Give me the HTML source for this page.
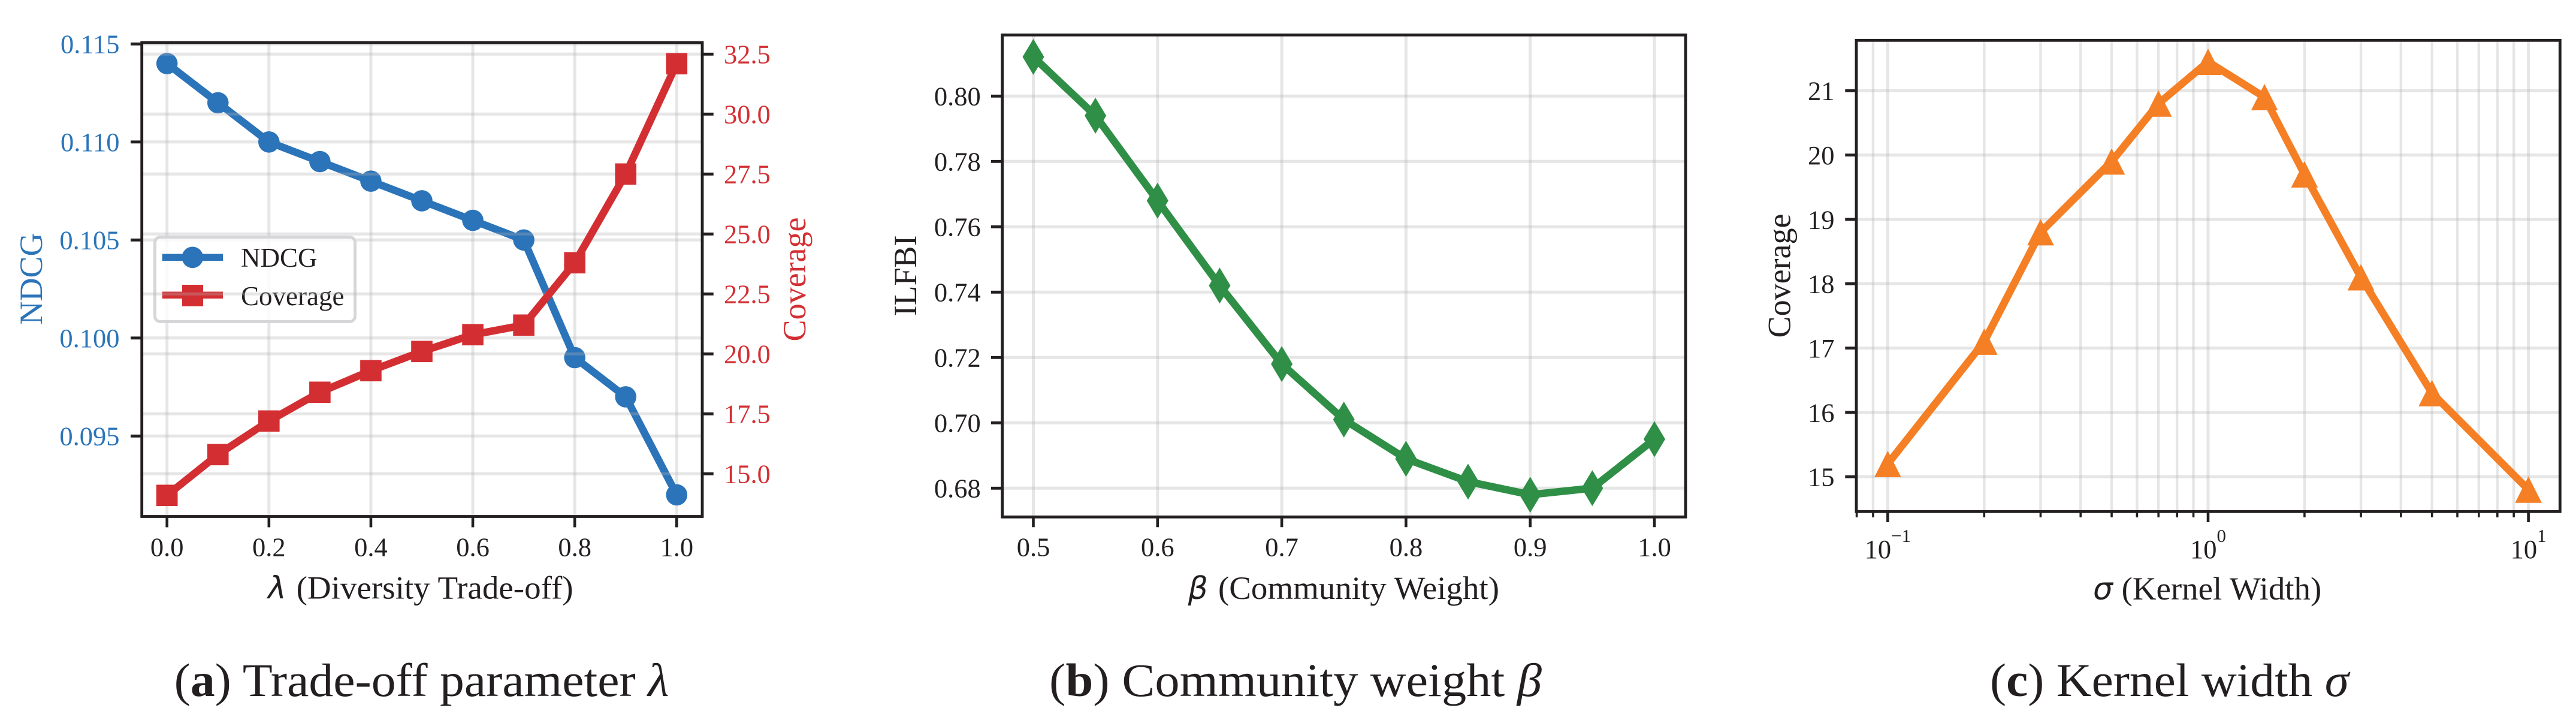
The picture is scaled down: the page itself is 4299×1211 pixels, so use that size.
<!DOCTYPE html>
<html lang="en">
<head>
<meta charset="utf-8">
<title>Parameter sensitivity charts</title>
<style>
html,body{margin:0;padding:0;background:#fff;}
body{width:4299px;height:1211px;overflow:hidden;}
svg{display:block;}
text{font-family:"Liberation Serif",serif;fill:#231f20;}
.math{font-family:"DejaVu Sans",sans-serif;font-style:italic;}
.greek{font-family:"Liberation Serif",serif;font-style:italic;}
</style>
</head>
<body>
<svg id="figure" xmlns="http://www.w3.org/2000/svg" width="4299" height="1211" viewBox="0 0 4299 1211">
  <rect x="0" y="0" width="4299" height="1211" fill="#ffffff"/>

  <g id="panel-a">
    <g id="a-grid"></g>
    <g id="a-ndcg"></g>
    <g id="a-legend">
      <rect x="258.5" y="395.5" width="334" height="141" rx="9" ry="9" fill="#ffffff" fill-opacity="0.8" stroke="#d6d6d8" stroke-width="5"/>
      <g>
        <line x1="270.7" x2="372" y1="429.3" y2="429.3" stroke="#2b74b9" stroke-width="11.5"/>
        <circle cx="321.3" cy="429.3" r="17.8" fill="#2b74b9"/>
        <text x="402" y="445" font-size="45">NDCG</text>
      </g>
      <g>
        <line x1="270.7" x2="372" y1="492.3" y2="492.3" stroke="#d32f33" stroke-width="11.5"/>
        <rect x="304" y="475" width="35" height="36" fill="#d32f33"/>
        <text x="402" y="509" font-size="45">Coverage</text>
      </g>
    </g>
    <g id="a-grid2"></g>
    <g id="a-coverage"></g>
    <rect x="236.7" y="71" width="935.3" height="790.5" fill="none" stroke="#231f20" stroke-width="4.8"/>
    <g id="a-axes"></g>
    <text transform="translate(70 465) rotate(-90)" text-anchor="middle" font-size="54" style="fill:#2b74b9">NDCG</text>
    <text transform="translate(1344 466) rotate(-90)" text-anchor="middle" font-size="54" style="fill:#d32f33">Coverage</text>
    <text x="447" y="998.5" font-size="52" class="math">λ</text>
    <text x="494.6" y="998.5" font-size="54.4" textLength="462" lengthAdjust="spacingAndGlyphs">(Diversity Trade-off)</text>
    <text x="290.6" y="1161" font-size="78" textLength="826" lengthAdjust="spacingAndGlyphs">(<tspan font-weight="bold">a</tspan>) Trade-off parameter <tspan class="greek">λ</tspan></text>
  </g>

  <g id="panel-b">
    <g id="b-grid"></g>
    <g id="b-series"></g>
    <rect x="1672.7" y="58.3" width="1140.3" height="804" fill="none" stroke="#231f20" stroke-width="4.8"/>
    <g id="b-axes"></g>
    <text transform="translate(1529 460) rotate(-90)" text-anchor="middle" font-size="54">ILFBI</text>
    <text x="1982.6" y="999" font-size="52" class="math">β</text>
    <text x="2033" y="999" font-size="54.4" textLength="469" lengthAdjust="spacingAndGlyphs">(Community Weight)</text>
    <text x="1751" y="1161" font-size="78" textLength="822" lengthAdjust="spacingAndGlyphs">(<tspan font-weight="bold">b</tspan>) Community weight <tspan class="greek">β</tspan></text>
  </g>

  <g id="panel-c">
    <g id="c-grid"></g>
    <g id="c-series"></g>
    <rect x="3098" y="67.3" width="1174.3" height="786" fill="none" stroke="#231f20" stroke-width="4.8"/>
    <g id="c-axes"></g>
    <text transform="translate(2987.5 460) rotate(-90)" text-anchor="middle" font-size="54">Coverage</text>
    <text x="3493" y="1000" font-size="52" class="math">σ</text>
    <text x="3540.6" y="1000" font-size="54.4" textLength="333.7" lengthAdjust="spacingAndGlyphs">(Kernel Width)</text>
    <text x="3321" y="1161" font-size="78" textLength="599" lengthAdjust="spacingAndGlyphs">(<tspan font-weight="bold">c</tspan>) Kernel width <tspan class="greek">σ</tspan></text>
  </g>
</svg>

<script>
// ---- Panel A data ----
const lambdaValues = [0.0, 0.1, 0.2, 0.3, 0.4, 0.5, 0.6, 0.7, 0.8, 0.9, 1.0];
const ndcgValues = [0.114, 0.112, 0.110, 0.109, 0.108, 0.107, 0.106, 0.105, 0.099, 0.097, 0.092];
const coverageValues = [14.1, 15.8, 17.2, 18.4, 19.3, 20.1, 20.8, 21.2, 23.8, 27.5, 32.1];
const lambdaTicks = [0.0, 0.2, 0.4, 0.6, 0.8, 1.0];
const lambdaTickLabels = ['0.0', '0.2', '0.4', '0.6', '0.8', '1.0'];
const ndcgTicks = [0.095, 0.100, 0.105, 0.110, 0.115];
const ndcgTickLabels = ['0.095', '0.100', '0.105', '0.110', '0.115'];
const coverageTicks = [15, 17.5, 20, 22.5, 25, 27.5, 30, 32.5];
const coverageTickLabels = ['15.0', '17.5', '20.0', '22.5', '25.0', '27.5', '30.0', '32.5'];

// ---- Panel B data ----
const betaValues = [0.5, 0.55, 0.6, 0.65, 0.7, 0.75, 0.8, 0.85, 0.9, 0.95, 1.0];
const ilfbiValues = [0.812, 0.794, 0.768, 0.742, 0.718, 0.701, 0.689, 0.682, 0.678, 0.680, 0.695];
const betaTicks = [0.5, 0.6, 0.7, 0.8, 0.9, 1.0];
const betaTickLabels = ['0.5', '0.6', '0.7', '0.8', '0.9', '1.0'];
const ilfbiTicks = [0.68, 0.70, 0.72, 0.74, 0.76, 0.78, 0.80];
const ilfbiTickLabels = ['0.68', '0.70', '0.72', '0.74', '0.76', '0.78', '0.80'];

// ---- Panel C data ----
const sigmaValues = [0.1, 0.2, 0.3, 0.5, 0.7, 1, 1.5, 2, 3, 5, 10];
const kernelCoverageValues = [15.2, 17.1, 18.8, 19.9, 20.8, 21.45, 20.9, 19.7, 18.1, 16.3, 14.8];
const sigmaMajorTicks = [0.1, 1, 10];
const sigmaTickBases = ['10', '10', '10'];
const sigmaTickExponents = ['\u22121', '0', '1'];
const sigmaMinorTicks = [0.08, 0.09, 0.2, 0.3, 0.4, 0.5, 0.6, 0.7, 0.8, 0.9, 2, 3, 4, 5, 6, 7, 8, 9];
const kernelCoverageTicks = [15, 16, 17, 18, 19, 20, 21];
const kernelCoverageTickLabels = ['15', '16', '17', '18', '19', '20', '21'];

// ---- Axis functions ----
const xLambda = v => 278.7 + v * 850.6;
const yNdcg = v => 73.3 + (0.115 - v) * 32700;
const yCoverage = v => 90.3 + (32.5 - v) * 40;
const xBeta = v => 1724.5 + (v - 0.5) * 2073;
const yIlfbi = v => 160.3 + (0.80 - v) * 5450;
const xSigma = v => 3685 + Math.log10(v) * 534.6;
const yKernel = v => 151.3 + (21 - v) * 107.33;

// ---- Styling constants ----
const GRID = 'rgba(176,176,180,0.32)';
const INK = '#231f20';
const BLUE = '#2b74b9';
const RED = '#d32f33';
const GREEN = '#2f8f46';
const ORANGE = '#f57f25';
const NS = 'http://www.w3.org/2000/svg';
const TICK_SIZE = 44.5;

function make(tag, parent, attrs) {
  const node = document.createElementNS(NS, tag);
  for (const k in attrs) node.setAttribute(k, attrs[k]);
  parent.appendChild(node);
  return node;
}
const $ = id => document.getElementById(id);

function polyPoints(xs, ys, fx, fy) {
  return xs.map((x, i) => fx(x).toFixed(2) + ',' + fy(ys[i]).toFixed(2)).join(' ');
}

// ---- Grid helpers ----
function vGrid(parent, ticks, fx, top, bottom, width) {
  ticks.forEach(t => {
    const g = make('line', parent, {x1: fx(t), x2: fx(t), y1: top, y2: bottom, stroke: GRID, 'stroke-width': width});
    
    
  });
}
function hGrid(parent, ticks, fy, left, right) {
  ticks.forEach(t => {
    const g = make('line', parent, {x1: left, x2: right, y1: fy(t), y2: fy(t), stroke: GRID, 'stroke-width': 5});
    
    
  });
}

// ---- Tick helpers ----
function xTicks(parent, ticks, labels, fx, bottom, len, baseline) {
  ticks.forEach((t, i) => {
    const m = make('line', parent, {x1: fx(t), x2: fx(t), y1: bottom, y2: bottom + len, stroke: INK, 'stroke-width': 4.6});
    
    
    const l = make('text', parent, {x: fx(t), y: baseline, 'text-anchor': 'middle', 'font-size': TICK_SIZE});
    l.textContent = labels[i];
    
    
  });
}
function yTicksLeft(parent, ticks, labels, fy, spine, labelEnd, color) {
  ticks.forEach((t, i) => {
    const m = make('line', parent, {x1: spine - 18.7, x2: spine, y1: fy(t), y2: fy(t), stroke: INK, 'stroke-width': 4.8});
    
    
    const l = make('text', parent, {x: labelEnd, y: fy(t) + 15.3, 'text-anchor': 'end', 'font-size': TICK_SIZE, style: 'fill:' + color});
    l.textContent = labels[i];
    
    
  });
}
function yTicksRight(parent, ticks, labels, fy, spine, labelStart, color) {
  ticks.forEach((t, i) => {
    const m = make('line', parent, {x1: spine, x2: spine + 18.7, y1: fy(t), y2: fy(t), stroke: INK, 'stroke-width': 4.8});
    
    
    const l = make('text', parent, {x: labelStart, y: fy(t) + 15.3, 'font-size': TICK_SIZE, style: 'fill:' + color});
    l.textContent = labels[i];
    
    
  });
}

// ---- Panel A ----
vGrid($('a-grid'), lambdaTicks, xLambda, 71, 861.5, 5);
hGrid($('a-grid'), ndcgTicks, yNdcg, 236.7, 1172);

const ndcgLine = make('polyline', $('a-ndcg'), {points: polyPoints(lambdaValues, ndcgValues, xLambda, yNdcg), fill: 'none', stroke: BLUE, 'stroke-width': 12.5, 'stroke-linejoin': 'round'});


lambdaValues.forEach((x, i) => {
  const pt = make('circle', $('a-ndcg'), {cx: xLambda(x), cy: yNdcg(ndcgValues[i]), r: 17.8, fill: BLUE});
  
  
});

hGrid($('a-grid2'), coverageTicks, yCoverage, 236.7, 1172);

const coverageLine = make('polyline', $('a-coverage'), {points: polyPoints(lambdaValues, coverageValues, xLambda, yCoverage), fill: 'none', stroke: RED, 'stroke-width': 12.5, 'stroke-linejoin': 'round'});


lambdaValues.forEach((x, i) => {
  const pt = make('rect', $('a-coverage'), {x: xLambda(x) - 17.8, y: yCoverage(coverageValues[i]) - 17.8, width: 35.6, height: 35.6, fill: RED});
  
  
});

xTicks($('a-axes'), lambdaTicks, lambdaTickLabels, xLambda, 861.5, 18, 927.7);
yTicksLeft($('a-axes'), ndcgTicks, ndcgTickLabels, yNdcg, 236.7, 199.5, BLUE);
yTicksRight($('a-axes'), coverageTicks, coverageTickLabels, yCoverage, 1172, 1208, RED);

// ---- Panel B ----
vGrid($('b-grid'), betaTicks, xBeta, 58.3, 862.3, 5);
hGrid($('b-grid'), ilfbiTicks, yIlfbi, 1672.7, 2813);

const ilfbiLine = make('polyline', $('b-series'), {points: polyPoints(betaValues, ilfbiValues, xBeta, yIlfbi), fill: 'none', stroke: GREEN, 'stroke-width': 12.5, 'stroke-linejoin': 'round'});


betaValues.forEach((x, i) => {
  const cx = xBeta(x), cy = yIlfbi(ilfbiValues[i]);
  const pt = make('polygon', $('b-series'), {points: [cx, cy - 30, cx + 18, cy, cx, cy + 30, cx - 18, cy].join(','), fill: GREEN});
  
  
});

xTicks($('b-axes'), betaTicks, betaTickLabels, xBeta, 862.3, 17, 927.3);
yTicksLeft($('b-axes'), ilfbiTicks, ilfbiTickLabels, yIlfbi, 1672.7, 1636.8, INK);

// ---- Panel C ----
vGrid($('c-grid'), sigmaMajorTicks, xSigma, 67.3, 853.3, 5);
vGrid($('c-grid'), sigmaMinorTicks.slice(1), xSigma, 67.3, 853.3, 4.4);
hGrid($('c-grid'), kernelCoverageTicks, yKernel, 3098, 4272.3);

const kernelLine = make('polyline', $('c-series'), {points: polyPoints(sigmaValues, kernelCoverageValues, xSigma, yKernel), fill: 'none', stroke: ORANGE, 'stroke-width': 12.5, 'stroke-linejoin': 'round'});


sigmaValues.forEach((x, i) => {
  const cx = xSigma(x), cy = yKernel(kernelCoverageValues[i]);
  const pt = make('polygon', $('c-series'), {points: [cx, cy - 22, cx + 22.3, cy + 22, cx - 22.3, cy + 22].join(','), fill: ORANGE});
  
  
});

sigmaMinorTicks.forEach(t => {
  const m = make('line', $('c-axes'), {x1: xSigma(t), x2: xSigma(t), y1: 853.3, y2: 863, stroke: INK, 'stroke-width': 3.6});
  
  
});
sigmaMajorTicks.forEach((t, i) => {
  const m = make('line', $('c-axes'), {x1: xSigma(t), x2: xSigma(t), y1: 853.3, y2: 871, stroke: INK, 'stroke-width': 4.6});
  
  
  const base = make('text', $('c-axes'), {y: 931, 'font-size': TICK_SIZE});
  base.textContent = sigmaTickBases[i];
  
  
  const exp = make('text', $('c-axes'), {y: 904, 'font-size': 31});
  exp.textContent = sigmaTickExponents[i];
  
  
  const bw = base.getComputedTextLength();
  const ew = exp.getComputedTextLength();
  const start = xSigma(t) - (bw + ew) / 2;
  base.setAttribute('x', start);
  exp.setAttribute('x', start + bw);
});
yTicksLeft($('c-axes'), kernelCoverageTicks, kernelCoverageTickLabels, yKernel, 3098, 3061.5, INK);
</script>
</body>
</html>
